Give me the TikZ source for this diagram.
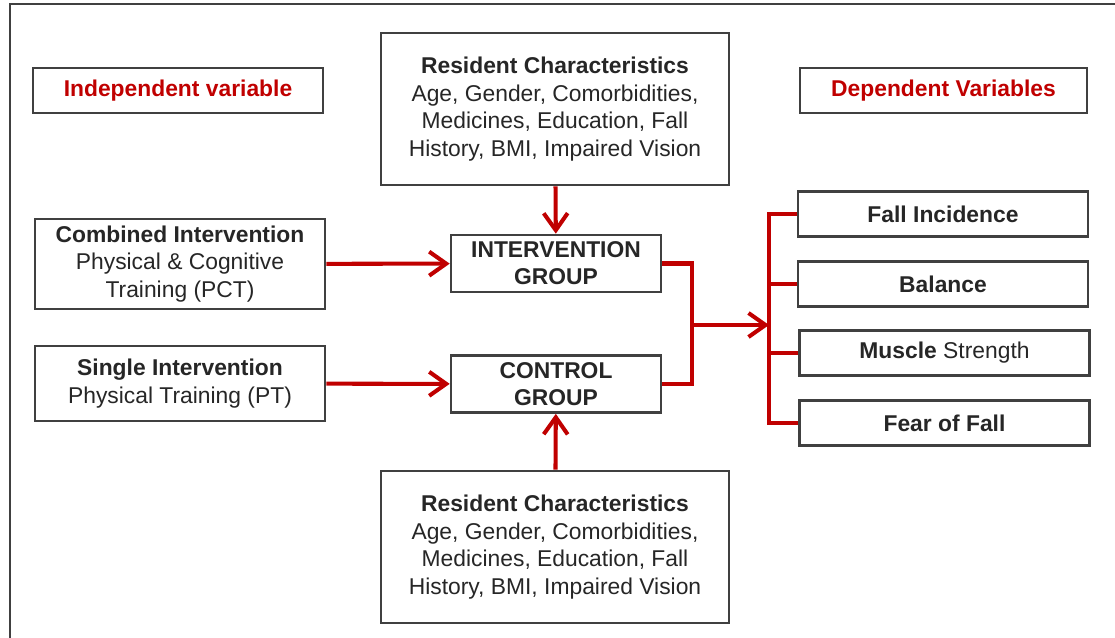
\documentclass[tikz,border=0pt]{standalone}
\usepackage{fontspec}
\setmainfont{Liberation Sans}
\usetikzlibrary{arrows.meta,positioning}
\definecolor{fwred}{HTML}{C00000}
\definecolor{fwgray}{HTML}{404040}
\definecolor{fwtext}{HTML}{262626}

\begin{document}
\begin{tikzpicture}[x=0.02cm, y=-0.02cm, >={Straight Barb[length=3.4mm, width=4.8mm]},
 every node/.style={font=\fontsize{13}{15.8}\selectfont, text=fwtext, align=center, inner sep=0pt},
 box/.style={draw=fwgray, line width=1.5pt},
 headbox/.style={box, minimum width=5.8cm, minimum height=0.9cm, font=\fontsize{13}{15.8}\selectfont\bfseries, text=fwred},
 outbox/.style={box, minimum width=5.8cm, minimum height=0.9cm},
 grpbox/.style={box, minimum width=4.2cm, minimum height=1.14cm, font=\fontsize{13}{15.4}\selectfont\bfseries},
 link/.style={draw=fwred, line width=2.3pt}]
\useasboundingbox (0,0) rectangle (1115,638);
\draw[fwgray, line width=1.6pt] (1130,4) -- (10,4) -- (10,660);
% headings
\node[headbox] (indep) at (178,90.5) {Independent variable};
\node[headbox, minimum width=5.74cm] (dep) at (943.5,90.5) {Dependent Variables};
% covariates
\node[box, minimum width=6.96cm, minimum height=3.04cm] (restop) at (555,109)
 {\textbf{Resident Characteristics}\\Age, Gender, Comorbidities,\\Medicines, Education, Fall\\History, BMI, Impaired Vision};
\node[box, minimum width=6.96cm, minimum height=3.04cm] (resbot) at (555,547)
 {\textbf{Resident Characteristics}\\Age, Gender, Comorbidities,\\Medicines, Education, Fall\\History, BMI, Impaired Vision};
% interventions
\node[box, minimum width=5.8cm, minimum height=1.8cm] (comb) at (180,264)
 {\textbf{Combined Intervention}\\Physical \& Cognitive\\Training (PCT)};
\node[box, minimum width=5.8cm, minimum height=1.5cm] (single) at (180,383.5)
 {\textbf{Single Intervention}\\Physical Training (PT)};
% groups
\node[grpbox] (inter) at (556,263.5) {INTERVENTION\\GROUP};
\node[grpbox] (ctrl) at (556,384) {CONTROL\\GROUP};
% outcomes
\node[outbox] (fall) at (943,214) {\textbf{Fall Incidence}};
\node[outbox] (bal) at (943,284) {\textbf{Balance}};
\node[outbox] (musc) at (944.5,353) {\textbf{Muscle} Strength};
\node[outbox] (fear) at (944.5,423) {\textbf{Fear of Fall}};
% connectors
\coordinate (join) at (692,325);
\coordinate (bar) at (769,325);
\draw[link,->] (comb) -- (inter);
\draw[link,->] (single) -- (ctrl);
\draw[link,->] (restop) -- (inter);
\draw[link,->] (resbot) -- (ctrl);
\draw[link] (inter.east) -| (join) |- (ctrl.east);
\draw[link,->] (join) -- (bar);
\draw[link] (fall.west) -| (bar) |- (fear.west);
\foreach \n in {bal,musc}
  \draw[link] (\n.west) -- (\n.west -| bar);
\end{tikzpicture}
\end{document}
